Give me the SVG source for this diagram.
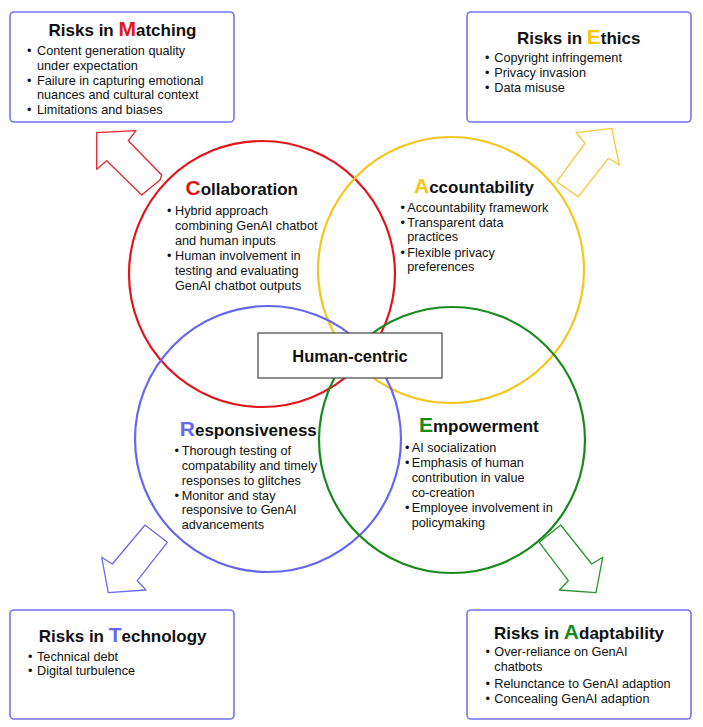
<svg xmlns="http://www.w3.org/2000/svg" width="703" height="727" viewBox="0 0 703 727">
<style>
text{font-family:"Liberation Sans",Arial,sans-serif;fill:#111}
.t{font-size:17px;font-weight:bold;text-anchor:middle}
.big{font-size:21px;font-weight:bold}
.b{font-size:12.7px}
.box{fill:#fff;stroke:#7373f2;stroke-width:1.6}
.circ{fill:none;stroke-width:2.2}
.arr{fill:#fff;stroke-width:1.3;stroke-linejoin:round}
</style>
<rect width="703" height="727" fill="#fff"/>

<g id="circles">
<circle id="c-red" class="circ" cx="262" cy="274" r="133" stroke="#e3151c"/>
<circle id="c-yellow" class="circ" cx="451" cy="270" r="133" stroke="#f5c518"/>
<circle id="c-blue" class="circ" cx="268" cy="439" r="133" stroke="#6666f2"/>
<circle id="c-green" class="circ" cx="452" cy="440" r="133" stroke="#168a1a"/>
</g>

<g id="connectors">
<polygon class="arr" stroke="#e3252b" points="96.7,132.7 136,130.7 128.3,140.7 161.7,175 160,180 141.7,195 106.7,160.7 96.7,169.3"/>
<polygon class="arr" stroke="#f5c830" points="576,132.7 611.7,128.3 619.3,165 608.3,158.3 578.3,196.7 556.7,181.7 585,143.3"/>
<polygon class="arr" stroke="#6a6af0" points="145,525 167.3,542.3 137.3,580.7 146,590 108.3,592.7 101.7,557.3 112.3,564"/>
<polygon class="arr" stroke="#2a952c" points="560.7,525 591.7,564 602.7,557.3 596,592.7 559.3,590 568.3,580.7 539.3,542.3"/>
</g>

<g id="human-centric">
<rect x="258" y="333" width="184" height="45" fill="#fff" stroke="#444" stroke-width="1.2"/>
<text x="350" y="361.5" style="font-size:16.5px;font-weight:bold;text-anchor:middle">Human-centric</text>
</g>

<g id="risk-matching">
<rect class="box" x="10" y="12" width="224" height="110" rx="4"/>
<text class="t" x="122.5" y="36">Risks in <tspan class="big" fill="#e3151c">M</tspan>atching</text>
<text class="b" x="27" y="55">•</text>
<text class="b" x="37" y="55">Content generation quality</text>
<text class="b" x="37" y="69.8">under expectation</text>
<text class="b" x="27" y="84.6">•</text>
<text class="b" x="37" y="84.6">Failure in capturing emotional</text>
<text class="b" x="37" y="99.4">nuances and cultural context</text>
<text class="b" x="27" y="114.2">•</text>
<text class="b" x="37" y="114.2">Limitations and biases</text>
</g>

<g id="risk-ethics">
<rect class="box" x="467" y="12" width="224" height="110" rx="4"/>
<text class="t" x="578.7" y="44">Risks in <tspan class="big" fill="#f5c518">E</tspan>thics</text>
<text class="b" x="485" y="62.3">•</text>
<text class="b" x="494.3" y="62.3">Copyright infringement</text>
<text class="b" x="485" y="77">•</text>
<text class="b" x="494.3" y="77">Privacy invasion</text>
<text class="b" x="485" y="91.7">•</text>
<text class="b" x="494.3" y="91.7">Data misuse</text>
</g>

<g id="risk-technology">
<rect class="box" x="10" y="610" width="224" height="109" rx="4"/>
<text class="t" x="122.7" y="641.7">Risks in <tspan class="big" fill="#6666f2">T</tspan>echnology</text>
<text class="b" x="28" y="660.7">•</text>
<text class="b" x="37" y="660.7">Technical debt</text>
<text class="b" x="28" y="675.3">•</text>
<text class="b" x="37" y="675.3">Digital turbulence</text>
</g>

<g id="risk-adaptability">
<rect class="box" x="467" y="610" width="224" height="109" rx="4"/>
<text class="t" x="579" y="639.3">Risks in <tspan class="big" fill="#168a1a">A</tspan>daptability</text>
<text class="b" x="485.5" y="656">•</text>
<text class="b" x="494.3" y="656">Over-reliance on GenAI</text>
<text class="b" x="494.3" y="671.3">chatbots</text>
<text class="b" x="485.5" y="687.5">•</text>
<text class="b" x="494.3" y="687.5">Relunctance to GenAI adaption</text>
<text class="b" x="485.5" y="702.5">•</text>
<text class="b" x="494.3" y="702.5">Concealing GenAI adaption</text>
</g>

<g id="collaboration">
<text class="t" x="241.7" y="195"><tspan class="big" fill="#e3151c">C</tspan>ollaboration</text>
<text class="b" x="167" y="215">•</text>
<text class="b" x="175" y="215">Hybrid approach</text>
<text class="b" x="175" y="230">combining GenAI chatbot</text>
<text class="b" x="175" y="245">and human inputs</text>
<text class="b" x="167" y="260">•</text>
<text class="b" x="175" y="260">Human involvement in</text>
<text class="b" x="175" y="275">testing and evaluating</text>
<text class="b" x="175" y="290">GenAI chatbot outputs</text>
</g>

<g id="accountability">
<text class="t" x="474" y="193.3"><tspan class="big" fill="#f5c518">A</tspan>ccountability</text>
<text class="b" x="400.5" y="211.7">•</text>
<text class="b" x="407.3" y="211.7">Accountability framework</text>
<text class="b" x="400.5" y="226.5">•</text>
<text class="b" x="407.3" y="226.5">Transparent data</text>
<text class="b" x="407.3" y="241.3">practices</text>
<text class="b" x="400.5" y="256.5">•</text>
<text class="b" x="407.3" y="256.5">Flexible privacy</text>
<text class="b" x="407.3" y="271.3">preferences</text>
</g>

<g id="responsiveness">
<text class="t" x="248.3" y="436"><tspan class="big" fill="#6666f2">R</tspan>esponsiveness</text>
<text class="b" x="174.5" y="455">•</text>
<text class="b" x="181.7" y="455">Thorough testing of</text>
<text class="b" x="181.7" y="470">compatability and timely</text>
<text class="b" x="181.7" y="484.5">responses to glitches</text>
<text class="b" x="174.5" y="499.5">•</text>
<text class="b" x="181.7" y="499.5">Monitor and stay</text>
<text class="b" x="181.7" y="514.3">responsive to GenAI</text>
<text class="b" x="181.7" y="529.3">advancements</text>
</g>

<g id="empowerment">
<text class="t" x="478.8" y="432.3"><tspan class="big" fill="#168a1a">E</tspan>mpowerment</text>
<text class="b" x="405" y="451.7">•</text>
<text class="b" x="411.7" y="451.7">AI socialization</text>
<text class="b" x="405" y="466.7">•</text>
<text class="b" x="411.7" y="466.7">Emphasis of human</text>
<text class="b" x="411.7" y="481.7">contribution in value</text>
<text class="b" x="411.7" y="496.7">co-creation</text>
<text class="b" x="405" y="511.7">•</text>
<text class="b" x="411.7" y="511.7">Employee involvement in</text>
<text class="b" x="411.7" y="526.7">policymaking</text>
</g>
</svg>
